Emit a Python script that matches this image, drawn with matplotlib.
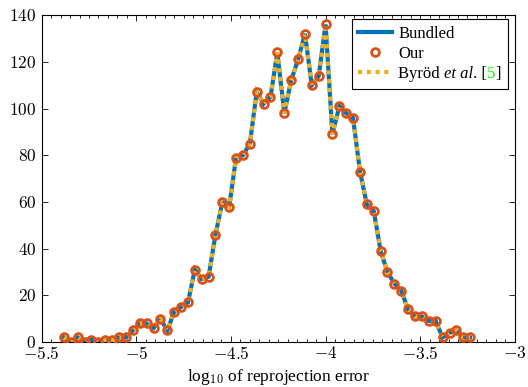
import matplotlib
matplotlib.use('Agg')
import matplotlib.pyplot as plt
from matplotlib.ticker import MultipleLocator, FixedLocator, FixedFormatter
from matplotlib.offsetbox import TextArea, HPacker

plt.rcParams['font.family'] = ['Liberation Serif', 'DejaVu Serif']
plt.rcParams['mathtext.fontset'] = 'cm'
plt.rcParams['font.size'] = 12

# histogram of log10 reprojection error (bin centres and counts)
log_err = [-5.382, -5.346, -5.309, -5.273, -5.237, -5.200, -5.164, -5.127, -5.091, -5.055,
           -5.018, -4.982, -4.946, -4.909, -4.873, -4.836, -4.800, -4.764, -4.727, -4.691,
           -4.655, -4.618, -4.582, -4.545, -4.509, -4.473, -4.436, -4.400, -4.364, -4.327,
           -4.291, -4.255, -4.218, -4.182, -4.145, -4.109, -4.073, -4.036, -4.000, -3.964,
           -3.927, -3.891, -3.855, -3.818, -3.782, -3.745, -3.709, -3.673, -3.636, -3.600,
           -3.564, -3.527, -3.491, -3.455, -3.418, -3.382, -3.345, -3.309, -3.273, -3.236]
counts = [2, 0, 2, 0, 1, 0, 1, 1, 2, 2,
          5, 8, 8, 6, 10, 5, 13, 15, 17, 31,
          27, 28, 46, 60, 58, 79, 80, 85, 107, 102,
          105, 124, 98, 112, 121, 132, 110, 114, 136, 89,
          101, 98, 96, 73, 59, 56, 39, 30, 25, 22,
          14, 11, 11, 9, 9, 2, 4, 5, 2, 2]

xticks = [-5.5, -5, -4.5, -4, -3.5, -3]
yticks = [0, 20, 40, 60, 80, 100, 120, 140]

fig = plt.figure(figsize=(5.28, 3.87), dpi=100)
ax = fig.add_axes([0.079, 0.116, 0.896, 0.845])

blue, orange, yellow = '#0072BD', '#D95319', '#EDB120'
ax.plot(log_err, counts, color=blue, lw=3.0, solid_joinstyle='miter', label='Bundled', zorder=2)
ax.plot(log_err, counts, ls='none', marker='o', ms=5.6, mew=2.0, mec=orange, mfc='none',
        label='Our', zorder=4)
ax.plot(log_err, counts, color=yellow, lw=3.0, ls=(0, (1, 1.1)), dash_capstyle='butt',
        dash_joinstyle='miter', label='Byröd et al. [5]', zorder=3)

ax.set_xlim(-5.5, -3)
ax.set_ylim(0, 140)
ax.xaxis.set_major_locator(FixedLocator(xticks))
ax.xaxis.set_major_formatter(FixedFormatter(['$%g$' % t for t in xticks]))
ax.xaxis.set_minor_locator(MultipleLocator(0.05))
ax.yaxis.set_major_locator(FixedLocator(yticks))
ax.yaxis.set_major_formatter(FixedFormatter(['$%d$' % t for t in yticks]))
ax.tick_params(which='both', direction='in', top=True, right=True, width=0.6, labelsize=12.5)
ax.tick_params(which='major', length=4.5)
ax.tick_params(axis='x', which='major', pad=3)
ax.tick_params(axis='y', which='major', pad=4)
ax.tick_params(which='minor', length=2.5)
for s in ax.spines.values():
    s.set_linewidth(0.8)

ax.set_xlabel('log$_{10}$ of reprojection error', fontsize=12.5, labelpad=3)

leg = ax.legend(loc='upper right', bbox_to_anchor=(0.985, 0.988), borderaxespad=0,
                fancybox=False, edgecolor='black', framealpha=1, numpoints=1,
                handlelength=2.0, handletextpad=0.4, labelspacing=0.25, borderpad=0.4,
                fontsize=12)
leg.get_frame().set_linewidth(0.8)

# rebuild the last legend label so "et al." is italic and the reference number green
try:
    item = leg._legend_handle_box.get_children()[0].get_children()[2]
    parts = HPacker(children=[
        TextArea('Byröd ', textprops=dict(fontsize=12)),
        TextArea('et al', textprops=dict(fontsize=12, style='italic')),
        TextArea('. [', textprops=dict(fontsize=12)),
        TextArea('5', textprops=dict(fontsize=12, color='#00FF00')),
        TextArea(']', textprops=dict(fontsize=12)),
    ], sep=0, pad=0, align='baseline')
    parts.set_figure(fig)
    item._children[1] = parts
except Exception:
    pass

plt.savefig('out.png', dpi=100)
